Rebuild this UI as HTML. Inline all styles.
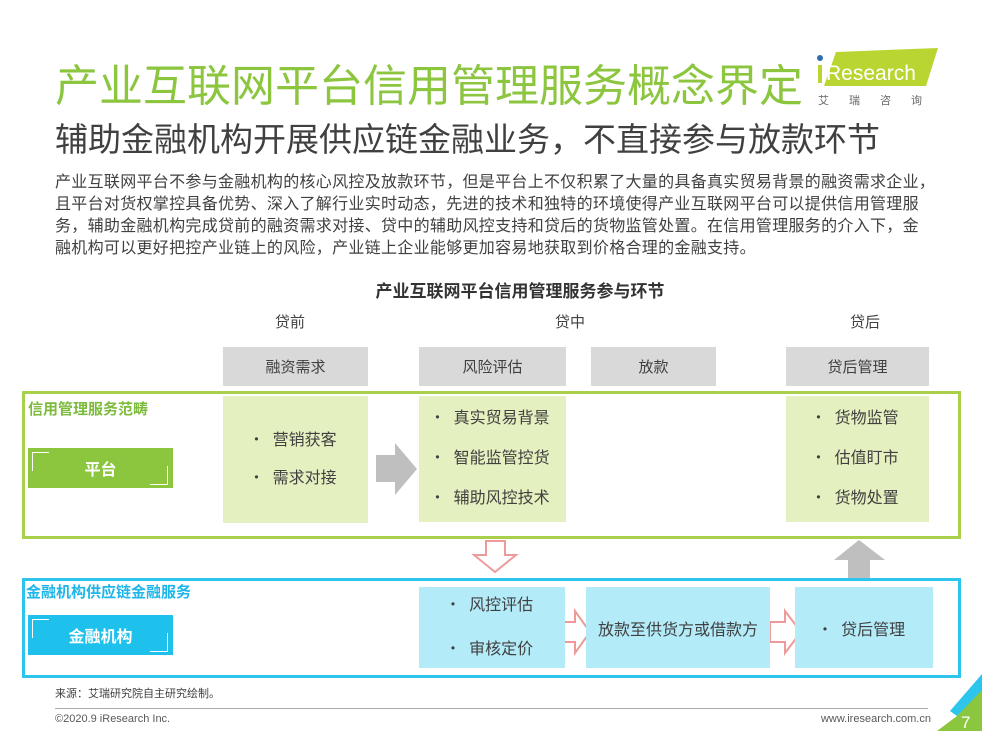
<!DOCTYPE html>
<html><head><meta charset="utf-8"><style>
body{margin:0;width:982px;height:731px;position:relative;overflow:hidden;background:#fff;font-family:"Liberation Sans","Noto Sans CJK SC",sans-serif;color:#404040}
.a{position:absolute}
.c{position:absolute;display:flex;align-items:center;justify-content:center}
.hd{background:#d9d9d9;font-size:15px;color:#404040}
.lg{background:#e4f0c0}
.lb{background:#b3ebf8}
ul{margin:0;padding:0;list-style:none;font-size:16px;color:#404040}
li:before{content:"•";margin-right:14px;font-size:12px;position:relative;top:-2px}
</style></head><body>
<div class="a" style="left:55px;top:50px;font-size:44px;color:#8cc63f;white-space:nowrap">产业互联网平台信用管理服务概念界定</div>
<div class="a" style="left:55px;top:113px;font-size:33px;color:#404040;white-space:nowrap">辅助金融机构开展供应链金融业务，不直接参与放款环节</div>
<svg class="a" style="left:812px;top:46px" width="130" height="64">
<polygon points="24,6 126,2 114,40 12,40" fill="#b9d531"/>
<rect x="6" y="19" width="4" height="18" fill="#b9d531"/>
<circle cx="8" cy="12" r="3" fill="#2e6db4"/>
<text x="14" y="34" font-family="Liberation Sans" font-size="21" fill="#fff">Research</text>
<text x="6" y="58" font-family="Noto Sans CJK SC" font-size="11" fill="#666" letter-spacing="20">艾瑞咨询</text>
</svg>
<div class="a" style="left:55px;top:172px;font-size:16px;letter-spacing:0.3px;line-height:22px;color:#404040;white-space:nowrap">产业互联网平台不参与金融机构的核心风控及放款环节，但是平台上不仅积累了大量的具备真实贸易背景的融资需求企业，<br>且平台对货权掌控具备优势、深入了解行业实时动态，先进的技术和独特的环境使得产业互联网平台可以提供信用管理服<br>务，辅助金融机构完成贷前的融资需求对接、贷中的辅助风控支持和贷后的货物监管处置。在信用管理服务的介入下，金<br>融机构可以更好把控产业链上的风险，产业链上企业能够更加容易地获取到价格合理的金融支持。</div>
<div class="a" style="left:0;width:1040px;top:277px;text-align:center;font-size:17px;font-weight:bold;color:#333">产业互联网平台信用管理服务参与环节</div>
<div class="a" style="left:275px;top:311px;font-size:15px">贷前</div>
<div class="a" style="left:555px;top:311px;font-size:15px">贷中</div>
<div class="a" style="left:850px;top:311px;font-size:15px">贷后</div>
<div class="c hd" style="left:223px;top:347px;width:145px;height:39px">融资需求</div>
<div class="c hd" style="left:419px;top:347px;width:147px;height:39px">风险评估</div>
<div class="c hd" style="left:591px;top:347px;width:125px;height:39px">放款</div>
<div class="c hd" style="left:786px;top:347px;width:143px;height:39px">贷后管理</div>

<div class="a" style="left:22px;top:391px;width:933px;height:142px;border:3px solid #a9d04a"></div>
<div class="a" style="left:28px;top:398px;font-size:15px;font-weight:bold;color:#7dbb3c">信用管理服务范畴</div>
<div class="c" style="left:28px;top:448px;width:145px;height:40px;background:#8cc63f;color:#fff;font-weight:bold;font-size:16px">平台</div>
<div class="a" style="left:32px;top:452px;width:16px;height:18px;border-left:1px solid #fff;border-top:1px solid #fff"></div>
<div class="a" style="left:150px;top:466px;width:17px;height:18px;border-right:1px solid #fff;border-bottom:1px solid #fff"></div>
<div class="c lg" style="left:223px;top:396px;width:145px;height:127px"><ul style="line-height:37px"><li>营销获客</li><li>需求对接</li></ul></div>
<div class="c lg" style="left:419px;top:396px;width:147px;height:126px"><ul style="line-height:40px"><li>真实贸易背景</li><li>智能监管控货</li><li>辅助风控技术</li></ul></div>
<div class="c lg" style="left:786px;top:396px;width:143px;height:126px"><ul style="line-height:40px"><li>货物监管</li><li>估值盯市</li><li>货物处置</li></ul></div>
<svg class="a" style="left:0;top:0" width="982" height="731">
<polygon points="376,455 395,455 395,443 417,469 395,495 395,482 376,482" fill="#bfbfbf"/>
<polygon points="486,541 505,541 505,555 516,555 495,572 474,555 486,555" fill="#fff" stroke="#ef9a9a" stroke-width="2"/>
<polygon points="848,578 870,578 870,560 885,560 859,540 834,560 848,560" fill="#bfbfbf"/>
<polygon points="559,622 575,622 575,611 590,632 575,653 575,642 559,642" fill="#fff" stroke="#ef9a9a" stroke-width="2"/>
<polygon points="770,622 785,622 785,611 801,632 785,653 785,642 770,642" fill="#fff" stroke="#ef9a9a" stroke-width="2"/>
<polygon points="982,688 957,716 937,731 982,731" fill="#8cc63f"/>
<polygon points="982,674 950,711 957,716 982,690" fill="#2ec5ed"/>
<text x="961" y="728" font-family="Liberation Sans" font-size="17" fill="#fff">7</text>
</svg>
<div class="a" style="left:22px;top:578px;width:933px;height:94px;border:3px solid #2ec5ed"></div>
<div class="a" style="left:26px;top:581px;font-size:15px;font-weight:bold;color:#1eb6e8">金融机构供应链金融服务</div>
<div class="c" style="left:28px;top:615px;width:145px;height:40px;background:#1ec0ec;color:#fff;font-weight:bold;font-size:16px">金融机构</div>
<div class="a" style="left:32px;top:619px;width:16px;height:18px;border-left:1px solid #fff;border-top:1px solid #fff"></div>
<div class="a" style="left:150px;top:633px;width:17px;height:18px;border-right:1px solid #fff;border-bottom:1px solid #fff"></div>
<div class="c lb" style="left:419px;top:587px;width:146px;height:81px"><ul style="line-height:43px"><li>风控评估</li><li>审核定价</li></ul></div>
<div class="c lb" style="left:586px;top:587px;width:184px;height:81px;font-size:16px">放款至供货方或借款方</div>
<div class="c lb" style="left:795px;top:587px;width:138px;height:81px"><ul><li>贷后管理</li></ul></div>
<div class="a" style="left:55px;top:685px;font-size:11px;color:#404040">来源：艾瑞研究院自主研究绘制。</div>
<div class="a" style="left:55px;top:708px;width:873px;height:1px;background:#aaa"></div>
<div class="a" style="left:55px;top:713px;font-size:11px;color:#595959">©2020.9 iResearch Inc.</div>
<div class="a" style="left:780px;top:713px;width:151px;text-align:right;font-size:11px;color:#595959">www.iresearch.com.cn</div>
</body></html>
